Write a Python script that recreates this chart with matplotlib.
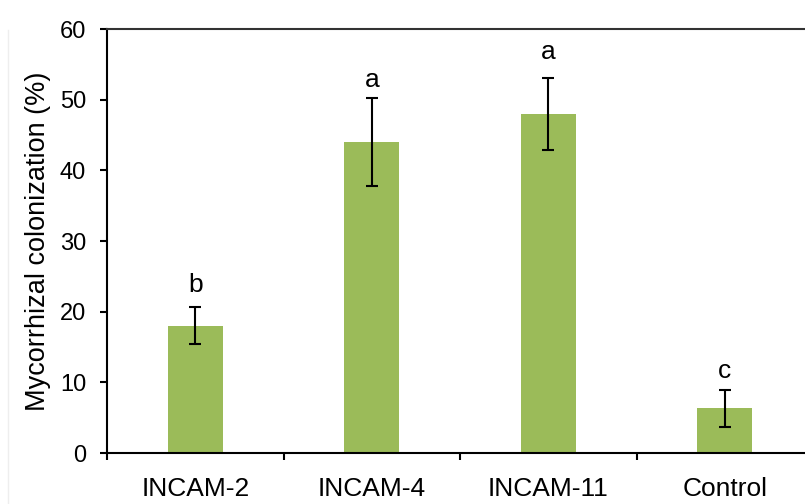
import matplotlib.pyplot as plt
from matplotlib.lines import Line2D
import numpy as np

plt.rcParams['font.family'] = ['Liberation Sans', 'DejaVu Sans']

# data
categories = ['INCAM-2', 'INCAM-4', 'INCAM-11', 'Control']
colonization = [18.0, 44.0, 48.0, 6.3]
errors = [2.6, 6.2, 5.1, 2.6]
letters = ['b', 'a', 'a', 'c']
letter_y = [22.8, 51.8, 55.8, 10.6]

x = np.arange(len(categories))

fig = plt.figure(figsize=(8.05, 5.04), dpi=100)
ax = fig.add_axes([107 / 805, 51 / 504, 706 / 805, 424 / 504])

ax.bar(x, colonization, width=0.31, color='#9BBB59', zorder=2)
ax.errorbar(x, colonization, yerr=errors, fmt='none', ecolor='black',
            elinewidth=1.5, capsize=4, capthick=1.5, zorder=3)

# significance letters
for xi, yi, t in zip(x, letter_y, letters):
    ax.text(xi, yi, t, ha='center', va='baseline', fontsize=19)

ax.set_xlim(-0.5, 3.5)
ax.set_ylim(0, 60)
ax.set_yticks(np.arange(0, 61, 10))
ax.set_xticks(x)
ax.set_xticklabels(categories)
ax.set_xticks(np.arange(-0.5, 3.6, 1), minor=True)
ax.tick_params(axis='x', which='major', length=0, pad=17, labelsize=19)
ax.tick_params(axis='x', which='minor', length=5, width=1.5, direction='out')
ax.tick_params(axis='y', length=5, width=1.5, direction='out', labelsize=17, pad=10)
ax.set_ylabel('Mycorrhizal colonization (%)', fontsize=19.5, labelpad=6)

for s in ['left', 'bottom']:
    ax.spines[s].set_linewidth(1.5)
ax.spines['top'].set_color('#333333')
ax.spines['top'].set_linewidth(1.5)
ax.spines['right'].set_visible(False)

# faint frame edge on the left
fig.add_artist(Line2D([8 / 805, 8 / 805], [0, 1 - 30 / 504], color='#eeeeee', lw=1))

fig.savefig('out.png', dpi=100)
